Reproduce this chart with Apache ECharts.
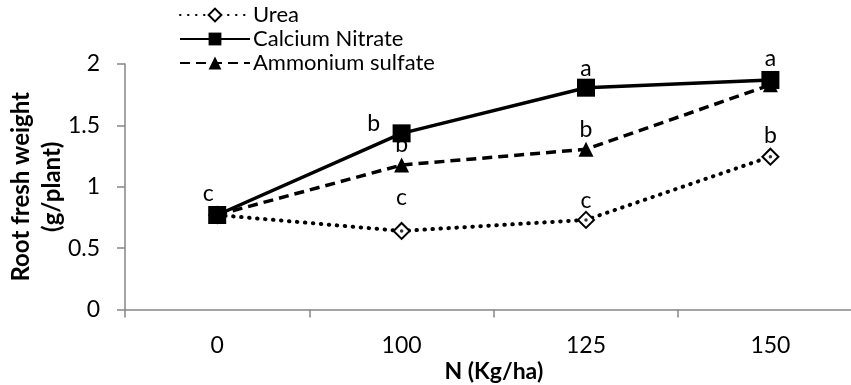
<!DOCTYPE html>
<html>
<head>
<meta charset="utf-8">
<script src="https://cdn.jsdelivr.net/npm/echarts@6/dist/echarts.min.js"></script>
<style>
html,body{margin:0;padding:0;background:#fff;}
#chart{width:851px;height:385px;}
</style>
</head>
<body>
<div id="chart"></div>
<script>
var categories = ['0', '100', '125', '150'];
var urea = [0.77, 0.64, 0.73, 1.245];
var calciumNitrate = [0.77, 1.435, 1.807, 1.87];
var ammoniumSulfate = [0.77, 1.177, 1.305, 1.83];
var ureaLetters = ['', 'c', 'c', 'b'];
var calciumLetters = ['c', 'b', 'a', 'a'];
var ammoniumLetters = ['', 'b', 'b', ''];
var yTicks = [0, 0.5, 1, 1.5, 2];

var FONT = 'Lato';
var chart = echarts.init(document.getElementById('chart'), null, {renderer: 'canvas'});

function build(values, letters, offsets) {
  return values.map(function (v, i) {
    var d = {value: v};
    if (letters[i]) {
      d.label = {show: true, formatter: letters[i], position: 'top',
                 offset: offsets[i] || [0, 0]};
    } else {
      d.label = {show: false};
    }
    return d;
  });
}

var labelStyle = {color: '#000', fontFamily: FONT, fontSize: 23, distance: 1};

var option = {
  animation: false,
  backgroundColor: '#fff',
  grid: {left: 125, top: 64, bottom: 75.5, right: -11.6, containLabel: false, outerBoundsMode: 'none'},
  legend: {
    orient: 'vertical', left: 174, top: -1,
    itemWidth: 70, itemHeight: 16, itemGap: 2,
    data: ['Urea', 'Calcium Nitrate', 'Ammonium sulfate'],
    textStyle: {fontFamily: FONT, fontSize: 22, color: '#000', padding: [0, 0, 0, -2]}
  },
  xAxis: {
    type: 'category', data: categories, boundaryGap: true,
    name: 'N (Kg/ha)', nameLocation: 'middle', nameGap: 51, nameMoveOverlap: false,
    nameTextStyle: {fontFamily: FONT, fontSize: 23, fontWeight: 'bold', color: '#000'},
    axisLine: {lineStyle: {color: '#868686', width: 1.5}},
    axisTick: {show: true, length: 8, lineStyle: {color: '#868686', width: 1.5}},
    axisLabel: {fontFamily: FONT, fontSize: 23, color: '#000', margin: 25},
    splitLine: {show: false}
  },
  yAxis: {
    type: 'value', min: 0, max: 2, interval: 0.5,
    name: 'Root fresh weight\n(g/plant)', nameLocation: 'middle', nameGap: 57, nameRotate: 90,
    nameMoveOverlap: false,
    nameTextStyle: {fontFamily: FONT, fontSize: 24, fontWeight: 'bold', color: '#000', lineHeight: 31},
    axisLine: {show: true, lineStyle: {color: '#868686', width: 1.5}},
    axisTick: {show: true, length: 8, lineStyle: {color: '#868686', width: 1.5}},
    axisLabel: {fontFamily: FONT, fontSize: 23, color: '#000', margin: 25,
                formatter: function (v) { return String(v); }},
    splitLine: {show: false}
  },
  series: [
    {
      name: 'Urea', type: 'line', z: 2,
      data: build(urea, ureaLetters, [[0, 0], [0, -12], [0, 2], [0, 0]]),
      symbol: 'diamond', symbolSize: 16,
      itemStyle: {color: '#fff', borderColor: '#000', borderWidth: 2},
      lineStyle: {color: '#000', width: 4, type: [0.5, 7.5], cap: 'round'},
      label: labelStyle
    },
    {
      name: 'UreaDot', type: 'scatter', z: 3, silent: true,
      data: urea, symbol: 'circle', symbolSize: 3.5,
      itemStyle: {color: '#000'}
    },
    {
      name: 'Ammonium sulfate', type: 'line', z: 4,
      data: build(ammoniumSulfate, ammoniumLetters, [[0, 0], [0, 0], [0, 0], [0, 0]]),
      symbol: 'triangle', symbolSize: 15,
      itemStyle: {color: '#000'},
      lineStyle: {color: '#000', width: 3.5, type: [10, 6]},
      label: labelStyle
    },
    {
      name: 'Calcium Nitrate', type: 'line', z: 5,
      data: build(calciumNitrate, calciumLetters, [[-9, 0], [-28, 12], [0, 2], [0, 0]]),
      symbol: 'rect', symbolSize: 18,
      itemStyle: {color: '#000'},
      lineStyle: {color: '#000', width: 3.5},
      label: labelStyle
    }
  ]
};
chart.setOption(option);
</script>
</body>
</html>
